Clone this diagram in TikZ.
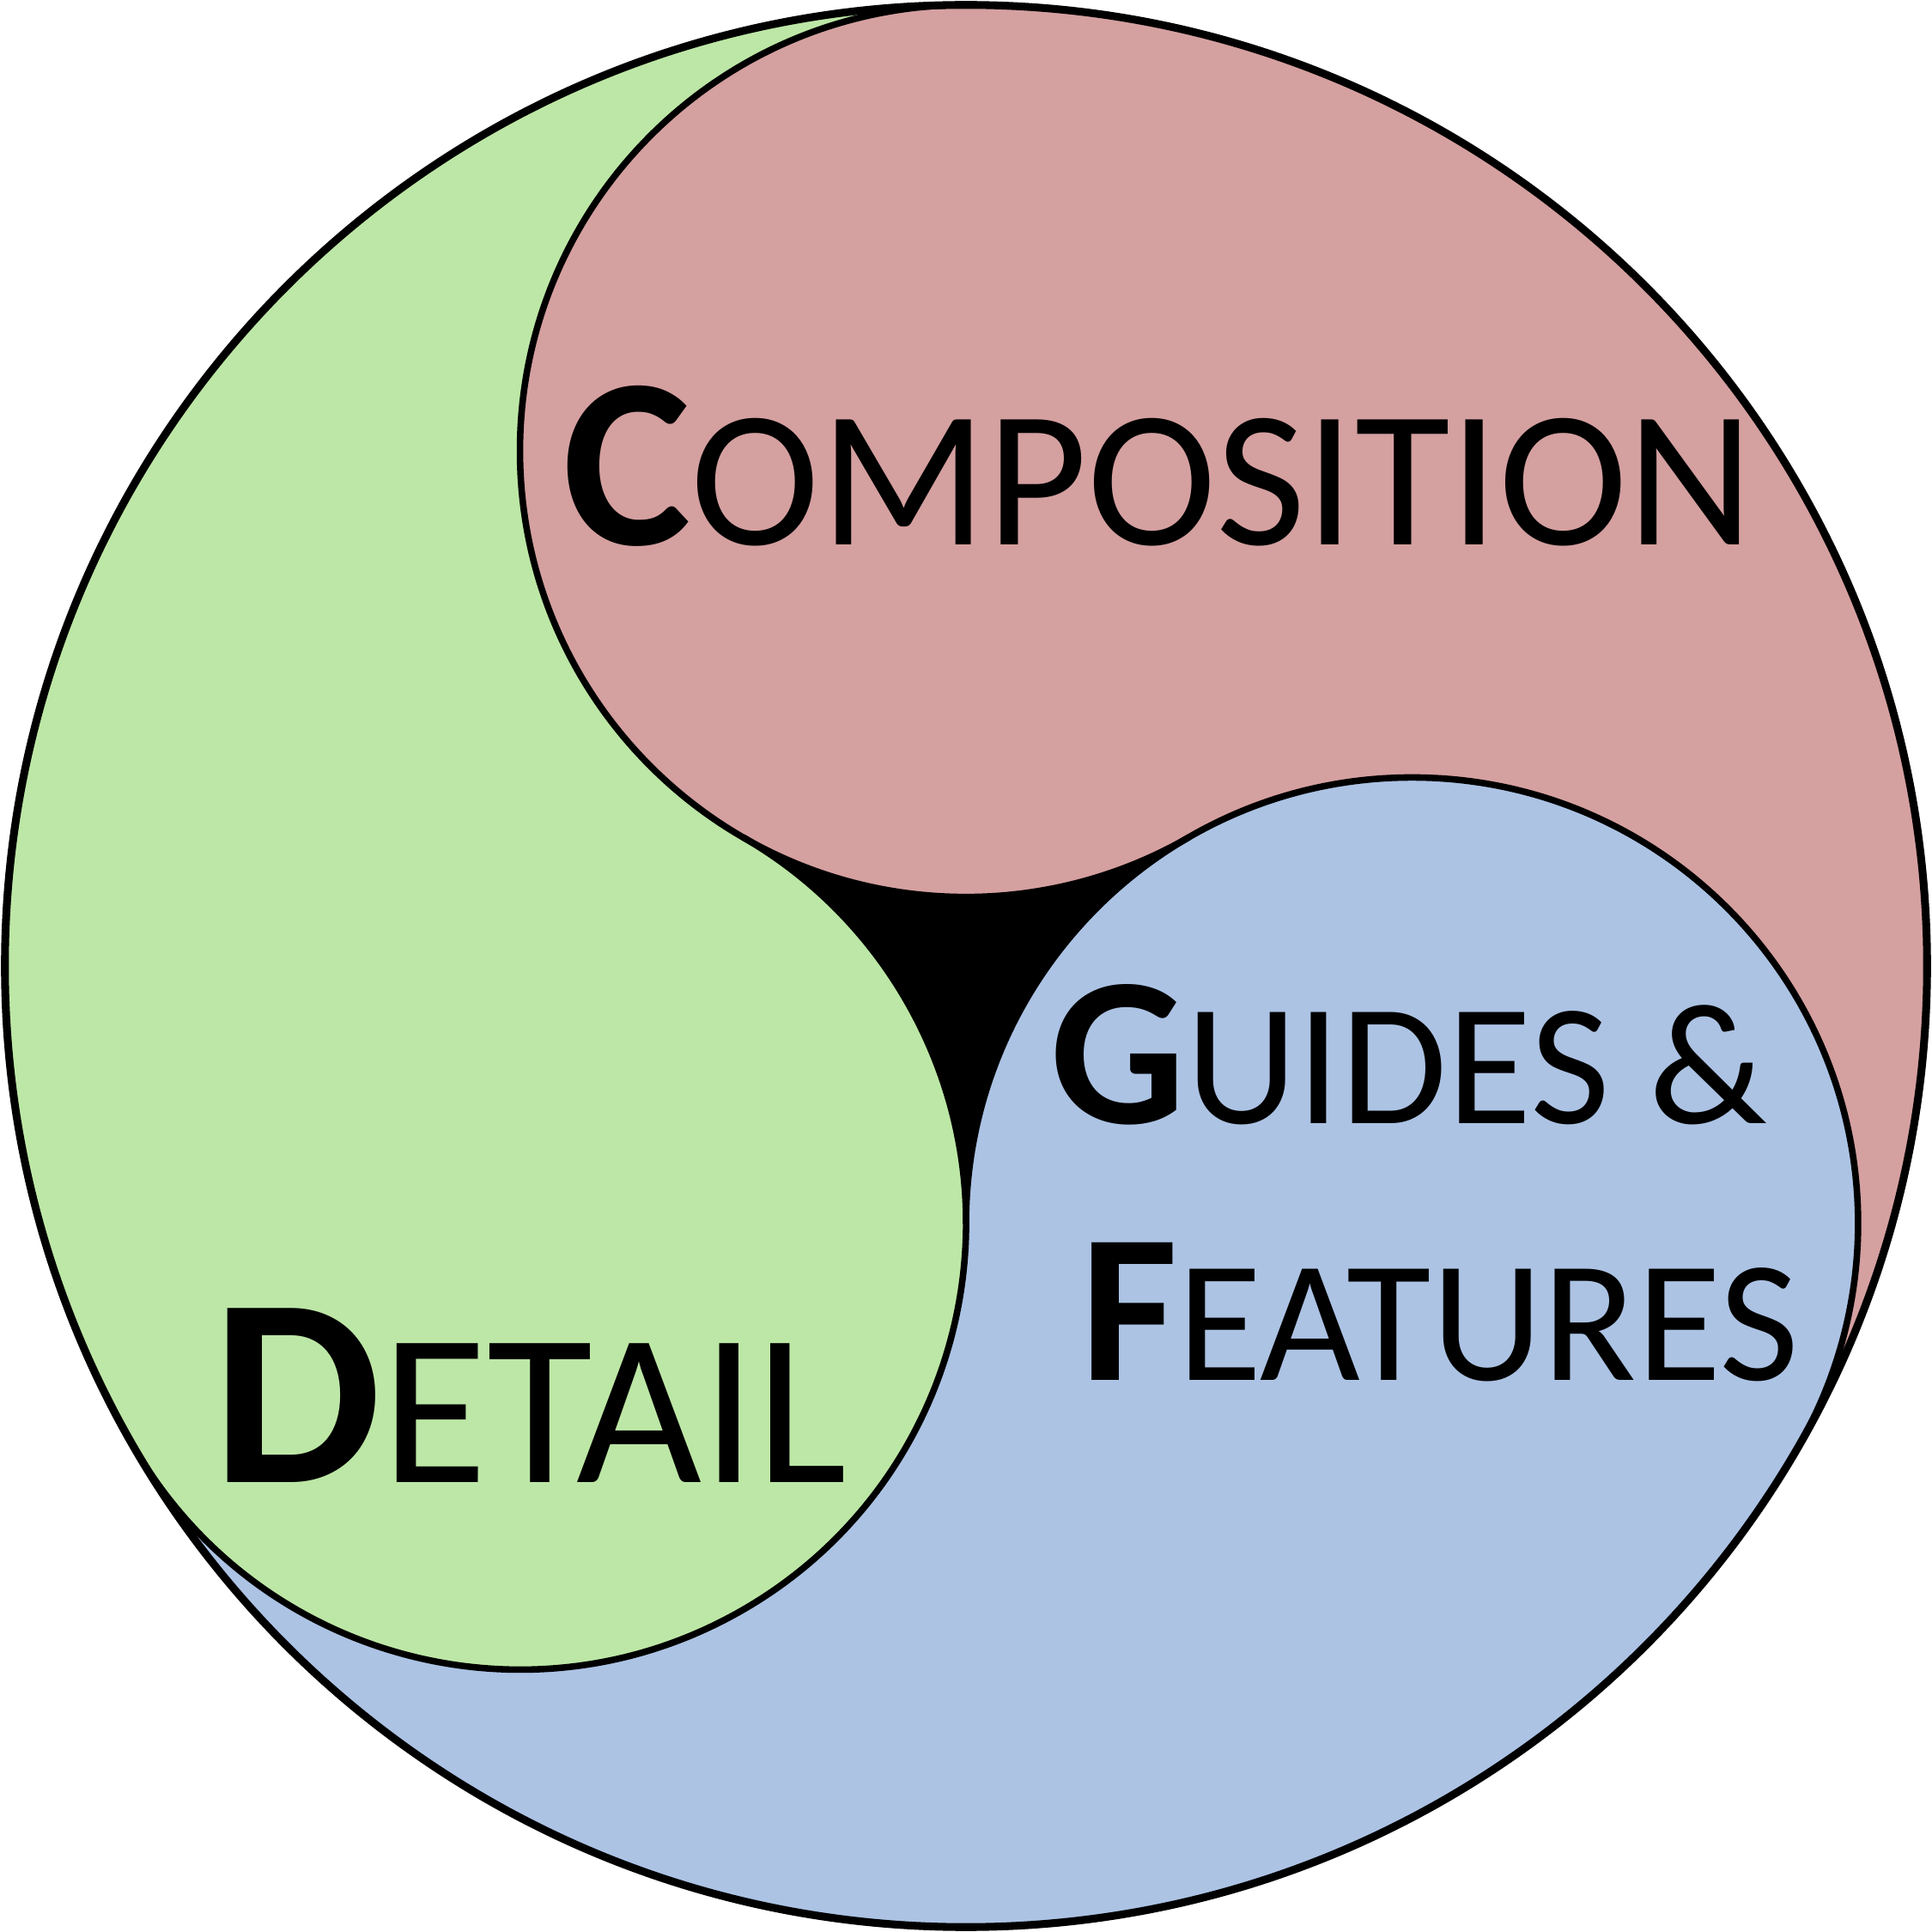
\documentclass[tikz,border=0pt]{standalone}
\usepackage{fontspec}
\setmainfont{Carlito}
\usepackage{tikz}
\usetikzlibrary{positioning, calc}

\definecolor{compfill}{RGB}{213,160,160}
\definecolor{detailfill}{RGB}{189,231,166}
\definecolor{guidefill}{RGB}{172,195,228}

% first letter bold and large, the rest in smaller capitals
\newcommand{\capword}[4]{{\fontsize{#1}{#1}\selectfont\bfseries #3}{\fontsize{#2}{#2}\selectfont #4}}

\tikzset{
    part/.style={draw=black, line width=1.5pt},
    label/.style={anchor=base west, inner sep=0pt}
}

\begin{document}
\begin{tikzpicture}
    \useasboundingbox (-7.84,-7.84) rectangle (7.84,7.84);

    % Centres of the three inner circles
    \coordinate (o) at (0,0);
    \coordinate (ctop) at (90:4.18);
    \coordinate (cleft) at (210:4.18);
    \coordinate (cright) at (330:4.18);

    % Gaps between the inner circles
    \fill[compfill] (o) -- (-30:7.8) arc (-30:90:7.8) -- cycle;
    \fill[detailfill] (o) -- (90:7.8) arc (90:210:7.8) -- cycle;
    \fill[guidefill] (o) -- (210:7.8) arc (210:330:7.8) -- cycle;
    \fill[black] (30:2.09) -- (150:2.09) -- (270:2.09) -- cycle;

    % Inner circles
    \fill[compfill] (ctop) circle (3.62);
    \fill[guidefill] (cright) circle (3.62);
    \fill[detailfill] (cleft) circle (3.62);

    % Outlines where two colours meet, run on round the black middle
    \draw[part] ($(ctop)+(90:3.62)$) arc (90:300:3.62);
    \draw[part] ($(cright)+(180:3.62)$) arc (180:-30:3.62);
    \draw[part] ($(cleft)+(210:3.62)$) arc (210:420:3.62);

    % Outer circle
    \draw[line width=1.8pt] (o) circle (7.8);

    % Labels
    \node[label] (comp) at (-3.28,3.42) {\capword{56pt}{45pt}{C}{OMPOSITION}};
    \node[label] (guides) at (0.68,-1.28) {\capword{49pt}{40pt}{G}{UIDES \&}};
    \node[label] (features) at (0.92,-3.36) {\capword{49pt}{40pt}{F}{EATURES}};
    \node[label] (detail) at (-6.12,-4.19) {\capword{62pt}{50pt}{D}{ETAIL}};

\end{tikzpicture}
\end{document}
